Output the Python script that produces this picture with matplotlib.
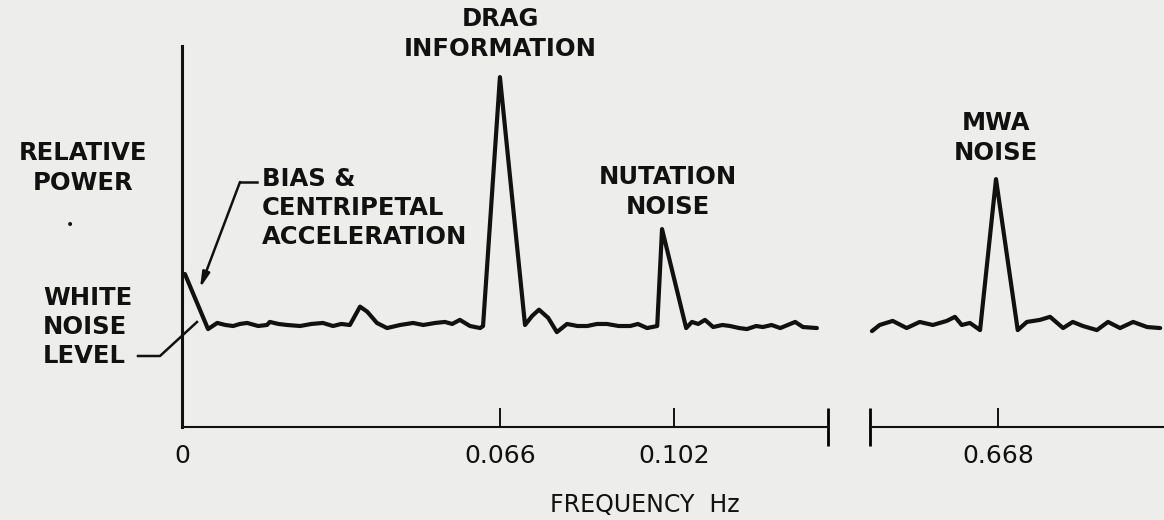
import matplotlib
matplotlib.use("Agg")
import matplotlib.pyplot as plt
from matplotlib.lines import Line2D

# spectrum, low-frequency part (Hz, relative power; white noise level ~ 1)
freq_low = [0.0006, 0.0054, 0.0073, 0.0090, 0.0106, 0.0120, 0.0135, 0.0158,
            0.0176, 0.0182, 0.0200, 0.0218, 0.0245, 0.0268, 0.0292, 0.0313,
            0.0330, 0.0348, 0.0369, 0.0384, 0.0404, 0.0425, 0.0452, 0.0479,
            0.0500, 0.0525, 0.0545, 0.0560, 0.0576, 0.0597, 0.0618, 0.0624,
            0.0659, 0.0711, 0.0726, 0.0740, 0.0759, 0.0777, 0.0798, 0.0820,
            0.0840, 0.0860, 0.0881, 0.0905, 0.0929, 0.0945, 0.0964, 0.0985,
            0.0995, 0.1045, 0.1057, 0.1070, 0.1084, 0.1101, 0.1120, 0.1136,
            0.1155, 0.1171, 0.1190, 0.1204, 0.1222, 0.1240, 0.1271, 0.1287,
            0.1316]
power_low = [1.50, 0.96, 1.02, 1.00, 0.99, 1.01, 1.02, 0.99,
             1.00, 1.03, 1.01, 1.00, 0.99, 1.01, 1.02, 0.99,
             1.01, 1.00, 1.18, 1.13, 1.02, 0.97, 1.00, 1.02,
             1.00, 1.02, 1.03, 1.01, 1.05, 0.99, 0.97, 0.99,
             3.43, 1.00, 1.09, 1.15, 1.07, 0.93, 1.01, 0.99,
             0.99, 1.01, 1.01, 0.99, 0.99, 1.01, 0.97, 0.99,
             1.94, 0.97, 1.03, 1.01, 1.05, 0.98, 1.00, 0.99,
             0.97, 0.96, 0.99, 0.98, 1.00, 0.97, 1.03, 0.98,
             0.97]

# spectrum around the MWA line
freq_high = [0.6419, 0.6435, 0.6462, 0.6491, 0.6518, 0.6545, 0.6574, 0.6591,
             0.6605, 0.6622, 0.6643, 0.6676, 0.6721, 0.6740, 0.6767, 0.6788,
             0.6815, 0.6835, 0.6856, 0.6885, 0.6908, 0.6933, 0.6960, 0.6989,
             0.7016]
power_high = [0.94, 1.00, 1.04, 0.97, 1.03, 1.00, 1.04, 1.08,
              1.00, 1.02, 0.95, 2.43, 0.95, 1.03, 1.05, 1.08,
              0.97, 1.03, 0.99, 0.95, 1.03, 0.97, 1.03, 0.98,
              0.97]

ticks_low = [0, 0.066, 0.102]
ticks_high = [0.668]
tick_labels_low = ["0", "0.066", "0.102"]
tick_labels_high = ["0.668"]

xlim_low = (0, 0.1339)
xlim_high = (0.6415, 0.7024)
ylim = (0, 3.735)

W, H = 1164, 520
BG = "#ededeb"
INK = "#111111"


def fx(px):
    return px / W


def fy(py):
    return 1 - py / H


fig = plt.figure(figsize=(W / 100, H / 100), dpi=100)
fig.patch.set_facecolor(BG)

ax1 = fig.add_axes([fx(182), fy(427), (828 - 182) / W, (427 - 46) / H])
ax2 = fig.add_axes([fx(870), fy(427), (W - 870) / W, (427 - 46) / H])

for ax in (ax1, ax2):
    ax.set_facecolor("none")
    ax.spines["top"].set_visible(False)
    ax.spines["right"].set_visible(False)
    ax.spines["bottom"].set_linewidth(1.5)
    ax.spines["bottom"].set_color(INK)
    ax.set_ylim(*ylim)
    ax.set_yticks([])
    ax.tick_params(axis="x", which="major", direction="in", length=14,
                   width=1.4, pad=12, labelsize=18, colors=INK)
    ax.tick_params(axis="x", which="minor", direction="inout", length=28,
                   width=2)

ax1.spines["left"].set_linewidth(2.2)
ax1.spines["left"].set_color(INK)
ax2.spines["left"].set_visible(False)

ax1.set_xlim(*xlim_low)
ax2.set_xlim(*xlim_high)
ax1.set_xticks(ticks_low, tick_labels_low)
ax2.set_xticks(ticks_high, tick_labels_high)
# break marks on either side of the gap
ax1.set_xticks([xlim_low[1]], minor=True)
ax2.set_xticks([xlim_high[0]], minor=True)

for ax, f, p in ((ax1, freq_low, power_low), (ax2, freq_high, power_high)):
    ax.plot(f, p, color=INK, lw=3.0, solid_joinstyle="round",
            solid_capstyle="round", clip_on=False)

bold = dict(fontsize=17.5, fontweight="bold", color=INK, linespacing=1.28)

fig.text(fx(83), fy(168), "RELATIVE\nPOWER", ha="center", va="center", **bold)
fig.text(fx(70), fy(225), "•", ha="center", va="center", fontsize=10, color=INK)
fig.text(fx(43), fy(327), "WHITE\nNOISE\nLEVEL", ha="left", va="center", **bold)
fig.text(fx(262), fy(208), "BIAS &\nCENTRIPETAL\nACCELERATION", ha="left",
         va="center", **bold)
fig.text(fx(500), fy(34), "DRAG\nINFORMATION", ha="center", va="center", **bold)
fig.text(fx(668), fy(192), "NUTATION\nNOISE", ha="center", va="center", **bold)
fig.text(fx(996), fy(138), "MWA\nNOISE", ha="center", va="center", **bold)

fig.text(fx(645), fy(505), "FREQUENCY  Hz", ha="center", va="center",
         fontsize=17, color=INK)

# leader lines
fig.add_artist(Line2D([fx(138), fx(160), fx(197)], [fy(356), fy(356), fy(322)],
                      color=INK, lw=1.8))
fig.add_artist(Line2D([fx(257), fx(240)], [fy(182), fy(182)], color=INK, lw=1.8))
fig.add_artist(plt.Annotation(
    "", xy=(fx(200), fy(288)), xytext=(fx(240), fy(182)),
    xycoords="figure fraction", textcoords="figure fraction",
    arrowprops=dict(arrowstyle="-|>,head_length=0.9,head_width=0.22",
                    color=INK, lw=1.8, shrinkA=0, shrinkB=0)))

fig.savefig("out.png", dpi=100, facecolor=BG)
